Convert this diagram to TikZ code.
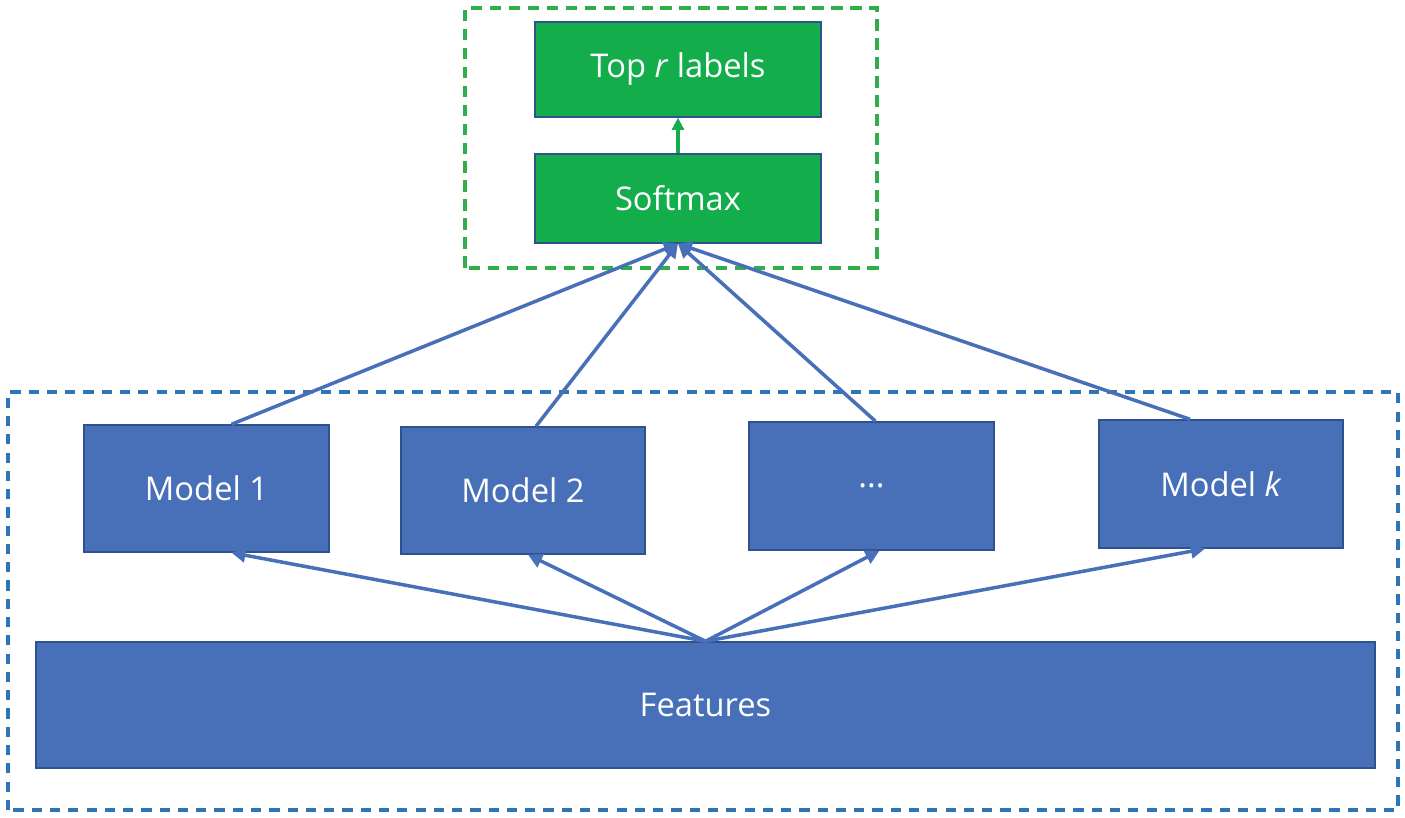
\documentclass[tikz,border=0pt]{standalone}
\usepackage{fontspec}
\setmainfont{Open Sans}
\usetikzlibrary{arrows.meta,calc}

\definecolor{boxblue}{HTML}{4870B8}
\definecolor{edgeblue}{HTML}{2F528F}
\definecolor{boxgreen}{HTML}{13AD4C}
\definecolor{dashblue}{HTML}{2E75B6}
\definecolor{dashgreen}{HTML}{2FAE4A}

\tikzset{
    block/.style={draw=edgeblue, line width=0.4pt, text=white, inner sep=0pt,
        font=\fontsize{9.3}{11}\selectfont},
    model/.style={block, fill=boxblue, minimum width=2.45cm, minimum height=1.27cm},
    greenbox/.style={block, fill=boxgreen, minimum width=2.86cm},
    link/.style={boxblue, line width=1pt, -{Triangle[length=4pt,width=4pt]}},
    group/.style={line width=0.95pt, dash pattern=on 2.9pt off 2.3pt},
}

\begin{document}
\begin{tikzpicture}
    \useasboundingbox (0,0) rectangle (14.05,8.18);

    % dashed groups
    \draw[group, dashgreen, dash pattern=on 3.3pt off 2.1pt] (4.65,5.50) rectangle (8.77,8.10);
    \draw[group, dashblue] (0.08,0.08) rectangle (13.98,4.26);

    % output part
    \node[greenbox, minimum height=0.95cm] (top) at (6.78,7.485) {Top \textit{r} labels};
    \node[greenbox, minimum height=0.89cm] (soft) at (6.78,6.195) {Softmax};
    \draw[boxgreen, line width=1pt, -{Triangle[length=3.5pt,width=3.4pt]}] (soft) -- (top);

    % models and features
    \node[model] (m1) at (2.065,3.295) {Model 1};
    \node[model, minimum width=2.44cm] (m2) at (5.23,3.275) {Model 2};
    \node[model, minimum height=1.28cm] (m3) at (8.715,3.32) {...};
    \node[model, minimum width=2.44cm, minimum height=1.28cm] (mk) at (12.21,3.34) {Model \textit{k}};
    \node[block, fill=boxblue, minimum width=13.39cm, minimum height=1.26cm] (feat) at (7.055,1.13) {Features};

    % features to models
    \draw[link] (feat.north) -- ([xshift=0.25cm]m1.south);
    \draw[link] (feat.north) -- ([xshift=0.05cm]m2.south);
    \draw[link] (feat.north) -- ([xshift=0.08cm]m3.south);
    \draw[link] (feat.north) -- ([xshift=-0.16cm]mk.south);

    % models to softmax
    \draw[link] ([xshift=0.25cm]m1.north) -- (soft.south);
    \draw[link] ([xshift=0.13cm]m2.north) -- (soft.south);
    \draw[link] ([xshift=0.04cm]m3.north) -- (soft.south);
    \draw[link] ([xshift=-0.31cm]mk.north) -- (soft.south);
\end{tikzpicture}
\end{document}
